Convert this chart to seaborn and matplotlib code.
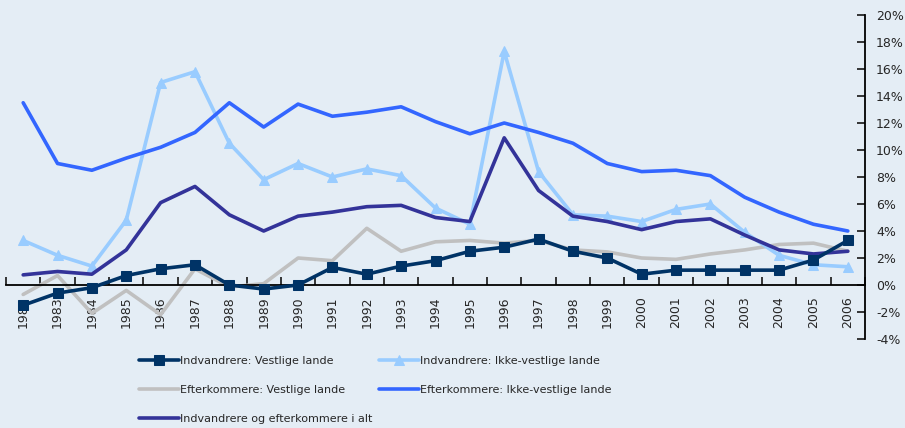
import matplotlib
matplotlib.use('Agg')
import matplotlib.pyplot as plt
import seaborn as sns
import pandas as pd
import numpy as np

# data (percent)
years = [str(y) for y in range(1982, 2007)]
indv_vest = [-1.5, -0.6, -0.2, 0.7, 1.2, 1.5, 0.0, -0.3, 0.0, 1.3, 0.8, 1.4, 1.8,
             2.5, 2.8, 3.4, 2.5, 2.0, 0.8, 1.1, 1.1, 1.1, 1.1, 1.85, 3.3]
indv_ikke = [3.3, 2.2, 1.4, 4.8, 15.0, 15.8, 10.5, 7.8, 9.0, 8.0, 8.6, 8.1, 5.7,
             4.5, 17.3, 8.4, 5.2, 5.1, 4.7, 5.6, 6.0, 3.9, 2.2, 1.5, 1.35]
efter_vest = [-0.7, 0.7, -2.1, -0.4, -2.2, 1.2, -0.15, 0.1, 2.0, 1.8, 4.2, 2.5, 3.2,
              3.3, 3.1, 3.3, 2.6, 2.45, 2.0, 1.9, 2.3, 2.6, 3.0, 3.1, 2.5]
efter_ikke = [13.5, 9.0, 8.5, 9.4, 10.2, 11.3, 13.5, 11.7, 13.4, 12.5, 12.8, 13.2, 12.1,
              11.2, 12.0, 11.3, 10.5, 9.0, 8.4, 8.5, 8.1, 6.5, 5.4, 4.5, 4.0]
i_alt = [0.75, 1.0, 0.8, 2.6, 6.1, 7.3, 5.2, 4.0, 5.1, 5.4, 5.8, 5.9, 5.0,
         4.7, 10.9, 7.0, 5.1, 4.7, 4.1, 4.7, 4.9, 3.7, 2.6, 2.3, 2.5]

labels = ["Indvandrere: Vestlige lande", "Indvandrere: Ikke-vestlige lande",
          "Efterkommere: Vestlige lande", "Efterkommere: Ikke-vestlige lande",
          "Indvandrere og efterkommere i alt"]
colors = ["#003366", "#99CCFF", "#C0C0C0", "#3366FF", "#333399"]
markers = ["s", "^", None, None, None]
y_ticks = list(range(-4, 21, 2))

bg = "#E4EDF5"
sns.set_style("white")
plt.rcParams['font.family'] = ['DejaVu Sans']
plt.rcParams['axes.unicode_minus'] = False

fig = plt.figure(figsize=(9.05, 4.28), dpi=100, facecolor=bg)
ax = fig.add_axes([6 / 905, 1 - 339 / 428, 859 / 905, 324 / 428])
ax.set_facecolor(bg)

x = np.arange(len(years))
series = [indv_vest, indv_ikke, efter_vest, efter_ikke, i_alt]
zorders = [6, 3, 2, 4, 5]
handles = []
for vals, lab, col, mk, z in zip(series, labels, colors, markers, zorders):
    sns.lineplot(x=x, y=vals, ax=ax, color=col, linewidth=2.6, marker=mk,
                 markersize=7, markeredgecolor=col, label=lab, zorder=z, legend=False)
    handles.append(ax.lines[-1])

ax.set_xlim(-0.5, len(years) - 0.5)
ax.set_ylim(-4, 20)

# axes styling
for s in ["top", "left"]:
    ax.spines[s].set_visible(False)
ax.spines["bottom"].set_position(("data", 0))
ax.spines["bottom"].set_linewidth(1.3)
ax.spines["right"].set_linewidth(1.3)
ax.spines["bottom"].set_color("black")
ax.spines["right"].set_color("black")

ax.set_xticks(x)
ax.set_xticklabels(years, rotation=90, fontsize=9)
ax.set_xticks(np.arange(-0.5, len(years), 1), minor=True)
ax.tick_params(axis="x", which="major", length=0, pad=8)
ax.tick_params(axis="x", which="minor", direction="in", length=6, width=1.3, bottom=True)

ax.yaxis.tick_right()
ax.set_yticks(y_ticks)
ax.set_yticklabels([f"{v}%" for v in y_ticks], fontsize=9)
ax.tick_params(axis="y", direction="in", length=6, width=1.3, pad=8)
ax.set_xlabel("")
ax.set_ylabel("")

order = [0, 2, 4, 1, 3]
fig.legend([handles[i] for i in order], [labels[i] for i in order],
           loc="upper left", bbox_to_anchor=(139 / 905, 1 - 356 / 428),
           ncol=2, frameon=False, fontsize=8, handlelength=3.6, handletextpad=0.1,
           labelspacing=1.7, columnspacing=0.6, borderpad=0, borderaxespad=0)

fig.savefig("out.png", dpi=100, facecolor=bg)
